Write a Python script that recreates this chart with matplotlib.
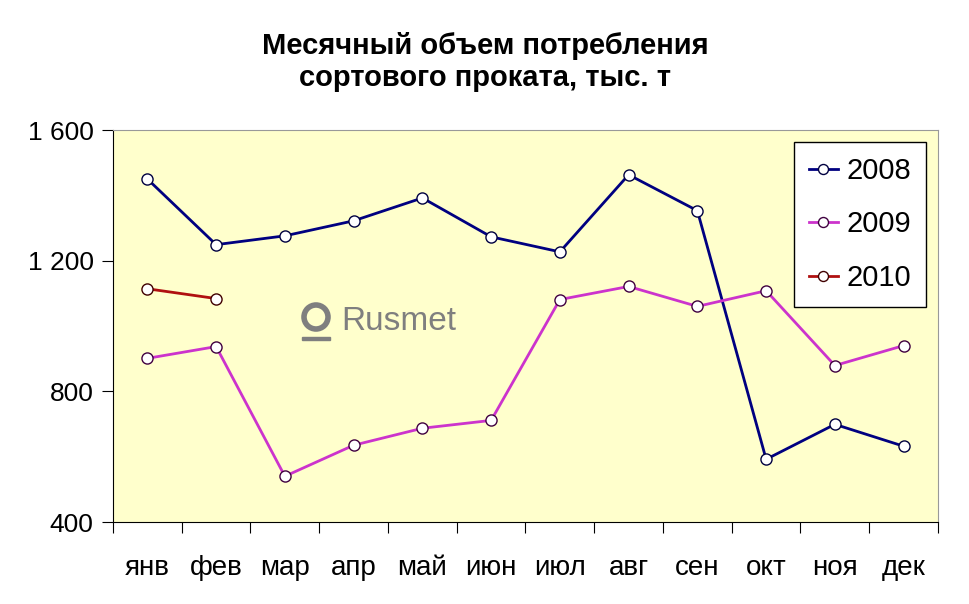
import matplotlib.pyplot as plt
from matplotlib.patches import Ellipse, Rectangle

plt.rcParams['font.family'] = ['Liberation Sans', 'DejaVu Sans']

months = ['янв', 'фев', 'мар', 'апр', 'май', 'июн', 'июл', 'авг', 'сен', 'окт', 'ноя', 'дек']
v2008 = [1450, 1249, 1276, 1322, 1392, 1273, 1227, 1463, 1353, 592, 699, 632]
v2009 = [901, 937, 540, 635, 687, 711, 1081, 1121, 1060, 1108, 879, 940]
v2010 = [1114, 1084]

fig = plt.figure(figsize=(9.7, 6.04), dpi=100)
ax = fig.add_axes([113 / 970, 1 - 522 / 604, 825 / 970, 392 / 604])
ax.set_facecolor('#FFFFCC')

x = list(range(len(months)))
mk = dict(marker='o', markersize=8, markerfacecolor='white', linewidth=2)
ax.plot(x, v2008, color='#000080', markeredgecolor='#000040', label='2008', **mk)
ax.plot(x, v2009, color='#CC33CC', markeredgecolor='#400040', label='2009', **mk)
ax.plot(x[:len(v2010)], v2010, color='#B01010', markeredgecolor='#400000', label='2010', **mk)

ax.set_xlim(-0.5, 11.5)
ax.set_ylim(400, 1600)
ax.set_yticks([400, 800, 1200, 1600])
ax.set_yticklabels(['400', '800', '1 200', '1 600'], fontsize=19)
ax.set_xticks([i - 0.5 for i in range(13)], minor=False)
ax.set_xticklabels([])
ax.set_xticks(x, minor=True)
ax.set_xticklabels(months, minor=True, fontsize=20)
ax.tick_params(axis='x', which='minor', length=0, pad=24)
ax.tick_params(axis='x', which='major', direction='out', length=8)
ax.tick_params(axis='y', direction='out', length=8, pad=6)

for s in ['top', 'right']:
    ax.spines[s].set_color('#999999')
    ax.spines[s].set_linewidth(0.8)

leg = ax.legend(loc='upper right', bbox_to_anchor=(0.9855, 0.969), borderaxespad=0,
                fontsize=21, frameon=True, fancybox=False, edgecolor='black',
                framealpha=1, labelspacing=0.88, handlelength=1.0, handletextpad=0.3,
                borderpad=0.5, markerscale=0.9)
leg.get_frame().set_linewidth(1.0)

fig.text(0.5, 1 - 62 / 604, 'Месячный объем потребления\nсортового проката, тыс. т',
         ha='center', va='center', fontsize=21, fontweight='bold', linespacing=1.2)

# watermark
fig.text(341 / 970, 1 - 321 / 604, 'Rusmet', fontsize=24, color='#7F7F7F',
         ha='left', va='center')
fig.patches.append(Ellipse((316 / 970, 1 - 317 / 604), 24 / 970, 24 / 604,
                           transform=fig.transFigure, fill=False,
                           edgecolor='#7F7F7F', linewidth=4))
fig.patches.append(Rectangle((302 / 970, 1 - 340 / 604), 28 / 970, 3 / 604,
                             transform=fig.transFigure, color='#7F7F7F'))

plt.savefig('out.png', dpi=100)
